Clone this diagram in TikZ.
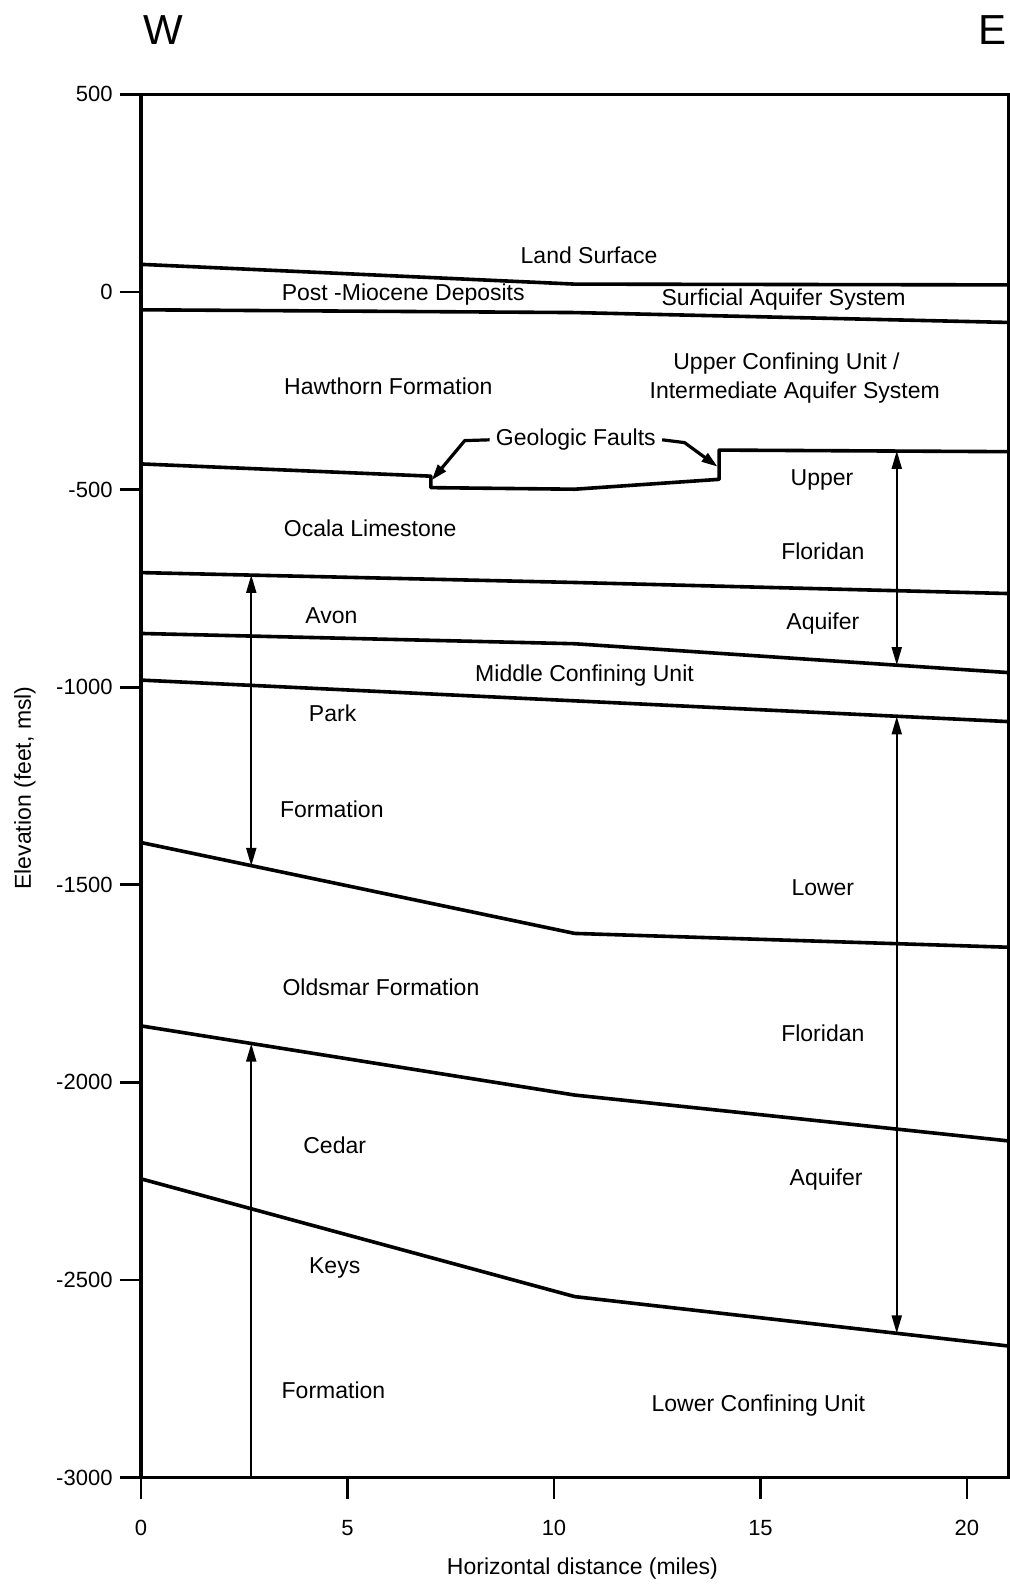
\documentclass[tikz,border=0pt]{standalone}
\usepackage{fontspec}
\setmainfont{Liberation Sans}
\usepackage{tikz}
\usetikzlibrary{arrows.meta}
\tikzset{
  bed/.style={line width=1.8pt,line join=round},
  frm/.style={line width=1.7pt},
  tick/.style={line width=1.4pt},
  dar/.style={{Triangle[length=9pt,width=5pt]}-{Triangle[length=9pt,width=5pt]},line width=1pt},
  uar/.style={-{Triangle[length=9pt,width=5pt]},line width=1pt},
  lead/.style={-{Triangle[length=8pt,width=5pt]},line width=1.6pt,line join=round},
  lbl/.style={font=\fontsize{11.5}{13}\selectfont,inner sep=1pt},
  tlbl/.style={font=\fontsize{11}{13}\selectfont,inner sep=0pt}
}

\begin{document}
\begin{tikzpicture}[x=20.65pt,y=0.1976pt]
\useasboundingbox (-3.414,738.9) rectangle (21.041,-3271.8);
\fill[white] (-3.414,738.9) rectangle (21.041,-3271.8);
% frame and ticks
\draw[frm] (0,-3000) rectangle (21,500);
\foreach \v in {500,0,...,-3000}{\draw[tick] (-0.52,\v) -- (0,\v);
  \node[tlbl,anchor=east] (yt\v) at (-0.68,\v) {\v};}
\foreach \m in {0,5,...,20}{\draw[tick] (\m,-3000) -- (\m,-3053);
  \node[tlbl] (xt\m) at (\m,-3127) {\m};}
\node[lbl] (xlab) at (10.69,-3229) {Horizontal distance (miles)};
\node[lbl,rotate=90] (ylab) at (-2.81,-1255) {Elevation (feet, msl)};
\node[font=\fontsize{21}{24}\selectfont,inner sep=0pt] (west) at (0.53,662) {W};
\node[font=\fontsize{21}{24}\selectfont,inner sep=0pt] (east) at (20.61,662) {E};
% layer boundaries
\draw[bed] (0,70) -- (10.5,20) -- (21,18);
\draw[bed] (0,-45) -- (10.5,-52) -- (21,-77);
\draw[bed] (0,-435) -- (7.02,-466) -- (7.02,-495) -- (10.5,-499) -- (14,-474) -- (14,-400) -- (21,-404);
\draw[bed] (0,-710) -- (10.5,-735) -- (21,-763);
\draw[bed] (0,-864) -- (10.5,-890) -- (21,-963);
\draw[bed] (0,-982) -- (21,-1087);
\draw[bed] (0,-1393) -- (10.5,-1623) -- (21,-1658);
\draw[bed] (0,-1857) -- (10.5,-2032) -- (21,-2148);
\draw[bed] (0,-2244) -- (10.5,-2542) -- (21,-2667);
% labels
\node[lbl] (land) at (10.85,94) {Land Surface};
\node[lbl] (pmio) at (6.35,-6) {Post -Miocene Deposits};
\node[lbl] (surf) at (15.56,-18) {Surficial Aquifer System};
\node[lbl] (hawt) at (5.99,-238) {Hawthorn Formation};
\node[lbl] (ucu) at (15.63,-182) {Upper Confining Unit /};
\node[lbl] (ias) at (15.83,-254) {Intermediate Aquifer System};
\node[lbl,inner sep=3pt] (gf) at (10.53,-374) {Geologic Faults};
\node[lbl] (upper) at (16.49,-476) {Upper};
\node[lbl] (ocala) at (5.55,-599) {Ocala Limestone};
\node[lbl] (flu) at (16.51,-657) {Floridan};
\node[lbl] (avon) at (4.61,-819) {Avon};
\node[lbl] (aqu) at (16.51,-839) {Aquifer};
\node[lbl] (mcu) at (10.74,-970) {Middle Confining Unit};
\node[lbl] (park) at (4.64,-1067) {Park};
\node[lbl] (pform) at (4.62,-1310) {Formation};
\node[lbl] (lower) at (16.51,-1507) {Lower};
\node[lbl] (olds) at (5.81,-1760) {Oldsmar Formation};
\node[lbl] (fll) at (16.51,-1876) {Floridan};
\node[lbl] (cedar) at (4.69,-2160) {Cedar};
\node[lbl] (aql) at (16.59,-2246) {Aquifer};
\node[lbl] (keys) at (4.69,-2469) {Keys};
\node[lbl] (cform) at (4.66,-2779) {Formation};
\node[lbl] (lcu) at (14.95,-2817) {Lower Confining Unit};
% fault leaders
\coordinate (fAm) at (7.84,-376);
\coordinate (fA) at (7.04,-476);
\coordinate (fBm) at (13.16,-381);
\coordinate (fB) at (13.96,-442);
\draw[lead] (gf.west) -- (fAm) -- (fA);
\draw[lead] (gf.east) -- (fBm) -- (fB);
% thickness arrows
\coordinate (pkT) at (2.67,-716);
\coordinate (pkB) at (2.67,-1452);
\coordinate (ckT) at (2.67,-1902);
\coordinate (ckB) at (2.67,-3000);
\coordinate (ufT) at (18.3,-402);
\coordinate (ufB) at (18.3,-944);
\coordinate (lfT) at (18.3,-1074);
\coordinate (lfB) at (18.3,-2635);
\draw[dar] (pkT) -- (pkB);
\draw[uar] (ckB) -- (ckT);
\draw[dar] (ufT) -- (ufB);
\draw[dar] (lfT) -- (lfB);
\end{tikzpicture}
\end{document}
